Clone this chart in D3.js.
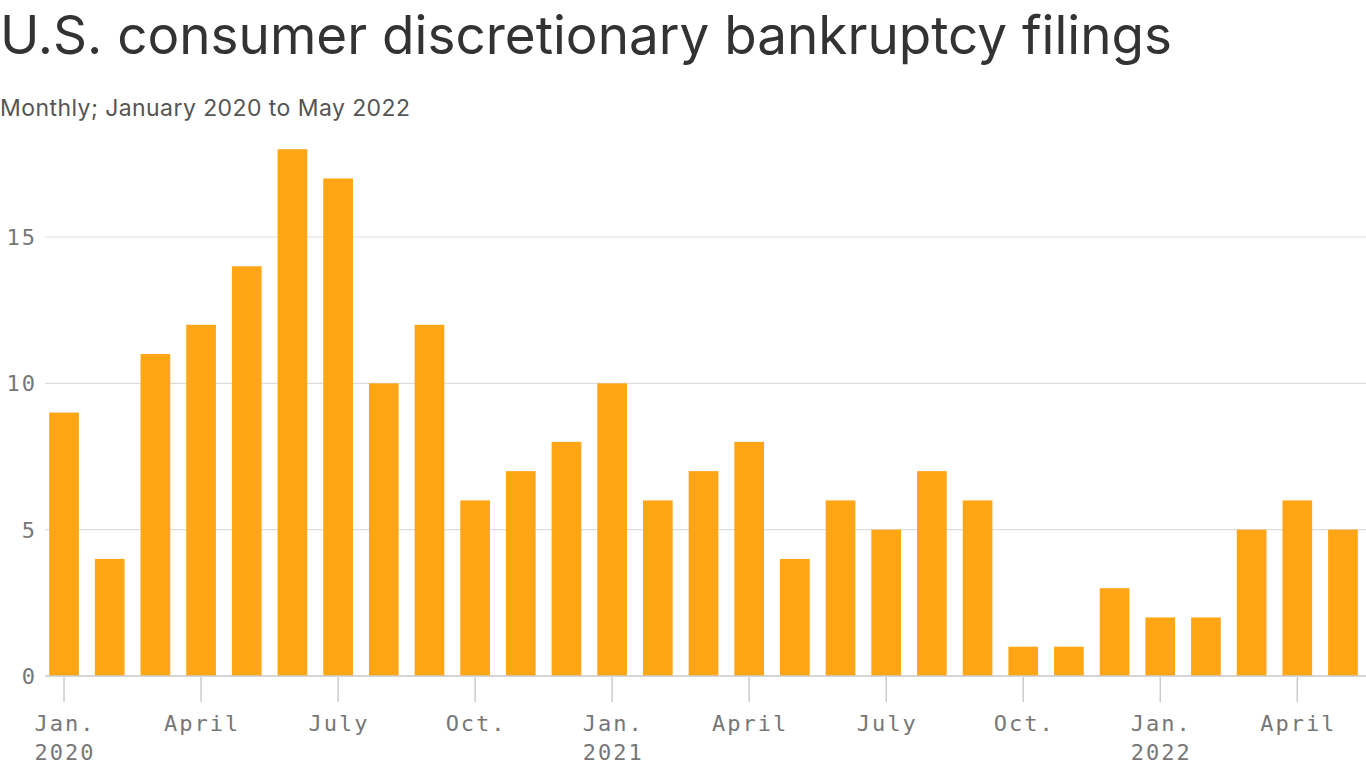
<!DOCTYPE html>
<html><head><meta charset="utf-8">
<script src="https://cdn.jsdelivr.net/npm/d3@7"></script>
<style>
body{margin:0;background:#fff;}
svg{display:block;}
</style></head><body>
<script>
const months = d3.range(29).map(i => new Date(2020, i, 1));
const filings = [9,4,11,12,14,18,17,10,12,6,7,8,10,6,7,8,4,6,5,7,6,1,1,3,2,2,5,6,5];
const yTicks = [0,5,10,15];
const monthNames = {0:'Jan.',3:'April',6:'July',9:'Oct.'};

const W = 1366, H = 768;
const svg = d3.select('body').append('svg').attr('width', W).attr('height', H);

// title + subtitle
svg.append('text').attr('x', 0).attr('y', 54)
  .attr('font-family', 'Inter, Roboto, sans-serif').attr('font-size', 53)
  .attr('textLength', 1172).attr('lengthAdjust', 'spacing').attr('fill', '#333')
  .text('U.S. consumer discretionary bankruptcy filings');
svg.append('text').attr('x', 0).attr('y', 116)
  .attr('font-family', 'Inter, Roboto, sans-serif').attr('font-size', 23)
  .attr('textLength', 410).attr('lengthAdjust', 'spacing').attr('fill', '#555')
  .text('Monthly; January 2020 to May 2022');

const x = d3.scaleBand().domain(months.map((d, i) => i)).range([41.2, 1365.8]).paddingInner(0.35).paddingOuter(0.175);
const y = d3.scaleLinear().domain([0, 15]).range([676, 237]);

const monoFont = g => g.attr('font-family', 'DejaVu Sans Mono, monospace').attr('font-size', 22)
  .attr('letter-spacing', 2).attr('fill', '#777');

// gridlines
svg.append('g').selectAll('line').data(yTicks).join('line')
  .attr('x1', 45).attr('x2', W).attr('y1', d => y(d)).attr('y2', d => y(d))
  .attr('stroke', '#ddd').attr('stroke-width', 1.2);

svg.append('g').call(monoFont).selectAll('text').data(yTicks).join('text')
  .attr('x', 37).attr('y', d => y(d) + 8).attr('text-anchor', 'end')
  .text(d => d);

// bars
svg.append('g').selectAll('rect').data(filings).join('rect')
  .attr('x', (d, i) => x(i)).attr('width', x.bandwidth())
  .attr('y', d => y(d)).attr('height', d => y(0) - y(d))
  .attr('fill', '#ffa516');

// baseline
svg.append('line').attr('x1', 45).attr('x2', W).attr('y1', y(0)).attr('y2', y(0))
  .attr('stroke', '#ccc').attr('stroke-width', 1.5);

// x ticks
const tickIdx = months.map((d, i) => i).filter(i => monthNames[months[i].getMonth()] !== undefined);
const gx = svg.append('g');
gx.selectAll('line').data(tickIdx).join('line')
  .attr('x1', i => x(i) + x.bandwidth() / 2).attr('x2', i => x(i) + x.bandwidth() / 2)
  .attr('y1', 677).attr('y2', 702).attr('stroke', '#ccc').attr('stroke-width', 1.5);
const gl = gx.append('g').call(monoFont);
gl.selectAll('text.m').data(tickIdx).join('text').attr('class', 'm')
  .attr('x', i => x(i) + x.bandwidth() / 2 + 1).attr('y', 731).attr('text-anchor', 'middle')
  .text(i => monthNames[months[i].getMonth()]);
gl.selectAll('text.yr').data(tickIdx.filter(i => months[i].getMonth() === 0)).join('text').attr('class', 'yr')
  .attr('x', i => x(i) + x.bandwidth() / 2 + 1).attr('y', 760).attr('text-anchor', 'middle')
  .text(i => months[i].getFullYear());
</script>
</body></html>
